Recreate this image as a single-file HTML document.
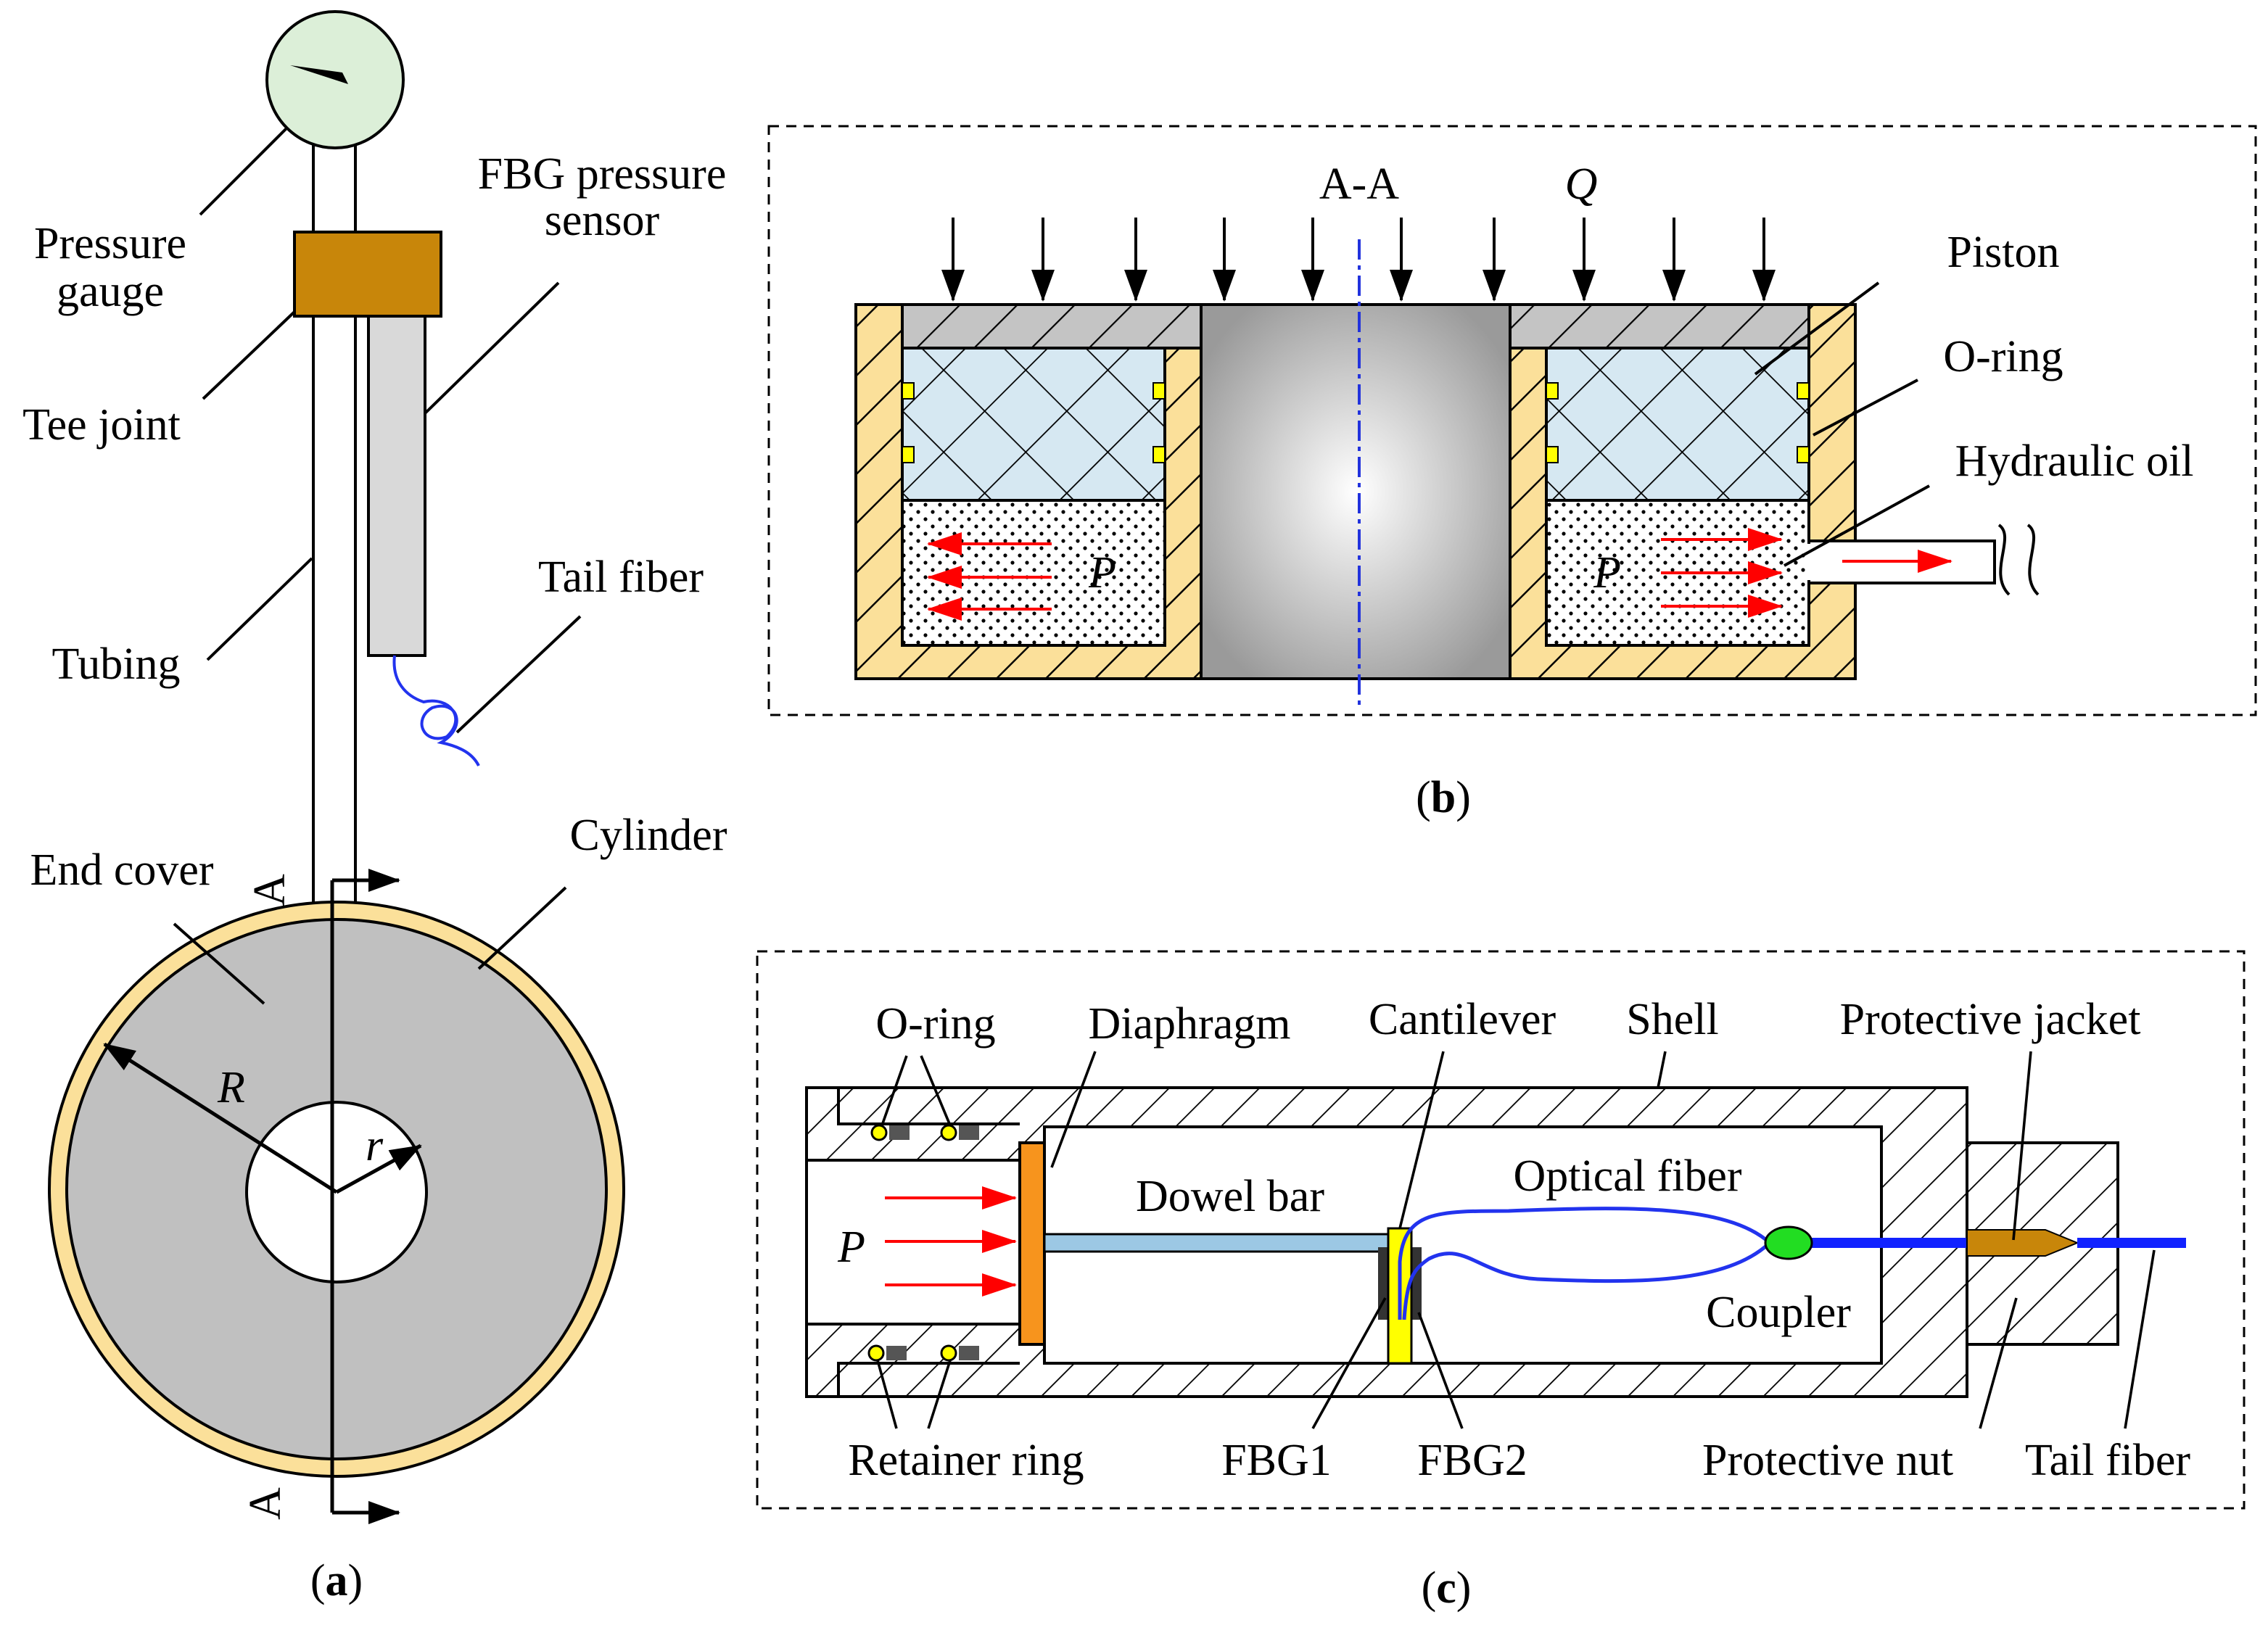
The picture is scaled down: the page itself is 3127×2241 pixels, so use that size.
<!DOCTYPE html>
<html><head><meta charset="utf-8"><style>html,body{margin:0;padding:0;background:#fff}svg{display:block}text{font-family:"Liberation Serif",serif;font-size:31px;fill:#000}</style></head><body>
<svg width="3127" height="2241" viewBox="0 0 1563.5 1120.5" xmlns="http://www.w3.org/2000/svg">
<defs>
<pattern id="hy" width="24" height="24" patternUnits="userSpaceOnUse" patternTransform="rotate(45)"><rect width="24" height="24" fill="#fbe09a"/><line x1="0" y1="0" x2="0" y2="24" stroke="#000" stroke-width="2.5"/></pattern>
<pattern id="hw" width="22" height="22" patternUnits="userSpaceOnUse" patternTransform="rotate(45)"><rect width="22" height="22" fill="#fff"/><line x1="0" y1="0" x2="0" y2="22" stroke="#000" stroke-width="1.8"/></pattern>
<pattern id="hg" width="28" height="28" patternUnits="userSpaceOnUse" patternTransform="rotate(45)"><rect width="28" height="28" fill="#c4c4c4"/><line x1="0" y1="0" x2="0" y2="28" stroke="#000" stroke-width="2.2"/></pattern>
<pattern id="hx" width="40" height="40" patternUnits="userSpaceOnUse" patternTransform="rotate(45)"><rect width="40" height="40" fill="#d6e8f2"/><line x1="0" y1="0" x2="0" y2="40" stroke="#000" stroke-width="1.8"/><line x1="0" y1="0" x2="40" y2="0" stroke="#000" stroke-width="1.8"/></pattern>
<pattern id="dot" width="10" height="10" patternUnits="userSpaceOnUse"><rect width="10" height="10" fill="#fff"/><circle cx="3" cy="3" r="1.3" fill="#000"/><circle cx="8" cy="8" r="1.3" fill="#000"/></pattern>
<radialGradient id="cyl" cx="0.5" cy="0.5" r="0.6"><stop offset="0" stop-color="#fff"/><stop offset="1" stop-color="#9a9a9a"/></radialGradient>
<marker id="ab2" markerWidth="22" markerHeight="16" refX="21" refY="8" orient="auto" markerUnits="userSpaceOnUse" viewBox="0 0 22 16"><path d="M0,0 L22,8 L0,16z" fill="#000"/></marker>
<marker id="ar" markerWidth="24" markerHeight="16" refX="23" refY="8" orient="auto" markerUnits="userSpaceOnUse" viewBox="0 0 24 16"><path d="M0,0 L24,8 L0,16z" fill="#f00"/></marker>
</defs>

<!-- (a) -->
<rect x="216" y="100" width="29" height="535" fill="#fff" stroke="#000" stroke-width="2"/>
<circle cx="231" cy="55" r="47" fill="#dcefd8" stroke="#000" stroke-width="2"/>
<path d="M200,45 L240,58 L236,50z" fill="#000"/>
<rect x="203" y="160" width="101" height="58" fill="#c8860a" stroke="#000" stroke-width="2"/>
<rect x="254" y="218" width="39" height="234" fill="#d9d9d9" stroke="#000" stroke-width="2"/>
<path d="M272,452 C270,470 280,480 292,484 C310,480 322,495 308,508 C292,514 284,496 298,488 C316,482 322,502 304,512 C318,515 326,520 330,528" fill="none" stroke="#2233ee" stroke-width="2"/>
<circle cx="232" cy="820" r="198" fill="#fbe09a" stroke="#000" stroke-width="2"/>
<circle cx="232" cy="820" r="186" fill="#c0c0c0" stroke="#000" stroke-width="2"/>
<circle cx="232" cy="822" r="62" fill="#fff" stroke="#000" stroke-width="2"/>
<line x1="229" y1="607" x2="229" y2="1043" stroke="#000" stroke-width="2.5"/>
<line x1="229" y1="607" x2="275" y2="607" stroke="#000" stroke-width="2.5" marker-end="url(#ab2)"/>
<line x1="229" y1="1043" x2="275" y2="1043" stroke="#000" stroke-width="2.5" marker-end="url(#ab2)"/>
<text transform="translate(196,625) rotate(-90)">A</text>
<text transform="translate(193,1048) rotate(-90)">A</text>
<line x1="232" y1="822" x2="72" y2="720" stroke="#000" stroke-width="2.5" marker-end="url(#ab2)"/>
<line x1="232" y1="822" x2="290" y2="790" stroke="#000" stroke-width="2.5" marker-end="url(#ab2)"/>
<text x="150" y="760" font-style="italic">R</text>
<text x="252" y="800" font-style="italic">r</text>
<g stroke="#000" stroke-width="2">
<line x1="138" y1="148" x2="198" y2="88"/><line x1="140" y1="275" x2="203" y2="215"/><line x1="293" y1="285" x2="385" y2="195"/><line x1="315" y1="505" x2="400" y2="425"/><line x1="143" y1="455" x2="215" y2="385"/><line x1="120" y1="637" x2="182" y2="692"/><line x1="330" y1="668" x2="390" y2="612"/>
</g>
<text x="76" y="178" text-anchor="middle">Pressure</text><text x="76" y="211" text-anchor="middle">gauge</text>
<text x="70" y="303" text-anchor="middle">Tee joint</text>
<text x="415" y="130" text-anchor="middle">FBG pressure</text><text x="415" y="162" text-anchor="middle">sensor</text>
<text x="428" y="408" text-anchor="middle">Tail fiber</text>
<text x="80" y="468" text-anchor="middle">Tubing</text>
<text x="84" y="610" text-anchor="middle">End cover</text>
<text x="447" y="586" text-anchor="middle">Cylinder</text>
<text x="232" y="1100" text-anchor="middle">(<tspan font-weight="bold">a</tspan>)</text>

<!-- (b) -->
<rect x="530" y="87" width="1025" height="406" fill="none" stroke="#000" stroke-width="1.5" stroke-dasharray="7,5"/>
<rect x="828" y="210" width="213" height="258" fill="url(#cyl)" stroke="#000" stroke-width="2"/>
<path d="M590,210 L622,210 L622,445 L803,445 L803,240 L828,240 L828,468 L590,468z" fill="url(#hy)" stroke="#000" stroke-width="2"/>
<path d="M1279,210 L1247,210 L1247,445 L1066,445 L1066,240 L1041,240 L1041,468 L1279,468z" fill="url(#hy)" stroke="#000" stroke-width="2"/>
<rect x="622" y="210" width="206" height="30" fill="url(#hg)" stroke="#000" stroke-width="2"/>
<rect x="1041" y="210" width="206" height="30" fill="url(#hg)" stroke="#000" stroke-width="2"/>
<rect x="622" y="240" width="181" height="105" fill="url(#hx)" stroke="#000" stroke-width="2"/>
<rect x="1066" y="240" width="181" height="105" fill="url(#hx)" stroke="#000" stroke-width="2"/>
<rect x="622" y="345" width="181" height="100" fill="url(#dot)" stroke="#000" stroke-width="2"/>
<rect x="1066" y="345" width="181" height="100" fill="url(#dot)" stroke="#000" stroke-width="2"/>
<g fill="#ff0" stroke="#000" stroke-width="1"><rect x="622" y="264" width="8" height="11"/><rect x="622" y="308" width="8" height="11"/><rect x="795" y="264" width="8" height="11"/><rect x="795" y="308" width="8" height="11"/><rect x="1066" y="264" width="8" height="11"/><rect x="1066" y="308" width="8" height="11"/><rect x="1239" y="264" width="8" height="11"/><rect x="1239" y="308" width="8" height="11"/></g>
<rect x="1247" y="373" width="128" height="29" fill="#fff" stroke="#000" stroke-width="2"/>
<rect x="1245" y="375" width="4" height="25" fill="#fff"/>
<path d="M1378,362 C1390,370 1370,395 1385,410 M1398,362 C1410,370 1390,395 1405,410" fill="none" stroke="#000" stroke-width="2"/>
<line x1="937" y1="165" x2="937" y2="490" stroke="#2233dd" stroke-width="2" stroke-dasharray="14,4,3,4"/>
<g stroke="#000" stroke-width="2" marker-end="url(#ab2)">
<line x1="657" y1="150" x2="657" y2="207"/><line x1="719" y1="150" x2="719" y2="207"/><line x1="783" y1="150" x2="783" y2="207"/><line x1="844" y1="150" x2="844" y2="207"/><line x1="905" y1="150" x2="905" y2="207"/><line x1="966" y1="150" x2="966" y2="207"/><line x1="1030" y1="150" x2="1030" y2="207"/><line x1="1092" y1="150" x2="1092" y2="207"/><line x1="1154" y1="150" x2="1154" y2="207"/><line x1="1216" y1="150" x2="1216" y2="207"/>
</g>
<g stroke="#f00" stroke-width="2" marker-end="url(#ar)">
<line x1="725" y1="375" x2="640" y2="375"/><line x1="725" y1="398" x2="640" y2="398"/><line x1="725" y1="420" x2="640" y2="420"/>
<line x1="1145" y1="372" x2="1228" y2="372"/><line x1="1145" y1="395" x2="1228" y2="395"/><line x1="1145" y1="418" x2="1228" y2="418"/>
<line x1="1270" y1="387" x2="1345" y2="387"/>
</g>
<text x="760" y="405" text-anchor="middle" font-style="italic">P</text>
<text x="1108" y="405" text-anchor="middle" font-style="italic">P</text>
<text x="937" y="137" text-anchor="middle">A-A</text>
<text x="1090" y="137" text-anchor="middle" font-style="italic">Q</text>
<g stroke="#000" stroke-width="2"><line x1="1210" y1="258" x2="1295" y2="195"/><line x1="1250" y1="300" x2="1322" y2="262"/><line x1="1230" y1="390" x2="1330" y2="335"/></g>
<text x="1381" y="184" text-anchor="middle">Piston</text>
<text x="1381" y="256" text-anchor="middle">O-ring</text>
<text x="1430" y="328" text-anchor="middle">Hydraulic oil</text>
<text x="995" y="560" text-anchor="middle">(<tspan font-weight="bold">b</tspan>)</text>

<!-- (c) -->
<rect x="522" y="656" width="1025" height="384" fill="none" stroke="#000" stroke-width="1.5" stroke-dasharray="7,5"/>
<path d="M556,750 L1356,750 L1356,963 L556,963 L556,913 L703,913 L703,927 L720,927 L720,940 L1297,940 L1297,777 L720,777 L720,788 L703,788 L703,800 L556,800z" fill="url(#hw)" stroke="#000" stroke-width="2" fill-rule="evenodd"/>
<rect x="720" y="777" width="577" height="163" fill="#fff" stroke="#000" stroke-width="2"/>
<rect x="556" y="800" width="147" height="113" fill="#fff" stroke="#000" stroke-width="2"/>
<path d="M578,750 L578,775 L703,775" fill="none" stroke="#000" stroke-width="2"/>
<path d="M578,963 L578,940 L703,940" fill="none" stroke="#000" stroke-width="2"/>
<g fill="#ff0" stroke="#000" stroke-width="1.5"><circle cx="606" cy="781" r="5"/><circle cx="654" cy="781" r="5"/><circle cx="604" cy="933" r="5"/><circle cx="654" cy="933" r="5"/></g>
<g fill="#555"><rect x="613" y="776" width="14" height="10"/><rect x="661" y="776" width="14" height="10"/><rect x="611" y="928" width="14" height="10"/><rect x="661" y="928" width="14" height="10"/></g>
<rect x="1356" y="788" width="104" height="139" fill="url(#hw)" stroke="#000" stroke-width="2"/>
<rect x="703" y="788" width="17" height="139" fill="#f7941d" stroke="#000" stroke-width="2"/>
<rect x="720" y="851" width="237" height="12" fill="#9cc8e4" stroke="#000" stroke-width="1.5"/>
<rect x="950" y="860" width="8" height="50" fill="#333"/><rect x="972" y="860" width="8" height="50" fill="#333"/>
<rect x="957" y="847" width="16" height="93" fill="#ff0" stroke="#000" stroke-width="1.5"/>
<path d="M965,910 L965,870 C968,835 990,835 1040,835 C1120,832 1190,830 1220,857 C1190,885 1130,885 1060,882 C1020,880 1010,855 985,868 C975,875 970,880 968,910" fill="none" stroke="#2233ee" stroke-width="2.5"/>
<line x1="1249" y1="857" x2="1356" y2="857" stroke="#1122ff" stroke-width="7"/>
<path d="M1356,848 L1410,848 L1432,857 L1410,866 L1356,866z" fill="#c8860a" stroke="#000" stroke-width="1"/>
<line x1="1432" y1="857" x2="1507" y2="857" stroke="#1122ff" stroke-width="7"/>
<ellipse cx="1233" cy="857" rx="16" ry="11" fill="#22dd22" stroke="#000" stroke-width="1.5"/>
<g stroke="#f00" stroke-width="2" marker-end="url(#ar)"><line x1="610" y1="826" x2="700" y2="826"/><line x1="610" y1="856" x2="700" y2="856"/><line x1="610" y1="886" x2="700" y2="886"/></g>
<g stroke="#000" stroke-width="1.8">
<line x1="608" y1="776" x2="625" y2="728"/><line x1="655" y1="776" x2="635" y2="728"/>
<line x1="725" y1="805" x2="755" y2="725"/><line x1="965" y1="847" x2="995" y2="725"/><line x1="1143" y1="750" x2="1148" y2="725"/><line x1="1388" y1="855" x2="1400" y2="725"/>
<line x1="605" y1="938" x2="618" y2="985"/><line x1="655" y1="938" x2="640" y2="985"/>
<line x1="955" y1="895" x2="905" y2="985"/><line x1="978" y1="905" x2="1008" y2="985"/>
<line x1="1390" y1="895" x2="1365" y2="985"/><line x1="1485" y1="862" x2="1465" y2="985"/>
</g>
<text x="645" y="716" text-anchor="middle">O-ring</text>
<text x="820" y="716" text-anchor="middle">Diaphragm</text>
<text x="1008" y="713" text-anchor="middle">Cantilever</text>
<text x="1153" y="713" text-anchor="middle">Shell</text>
<text x="1372" y="713" text-anchor="middle">Protective jacket</text>
<text x="848" y="835" text-anchor="middle">Dowel bar</text>
<text x="1122" y="821" text-anchor="middle">Optical fiber</text>
<text x="1226" y="915" text-anchor="middle">Coupler</text>
<text x="587" y="870" text-anchor="middle" font-style="italic">P</text>
<text x="666" y="1017" text-anchor="middle">Retainer ring</text>
<text x="880" y="1017" text-anchor="middle">FBG1</text>
<text x="1015" y="1017" text-anchor="middle">FBG2</text>
<text x="1260" y="1017" text-anchor="middle">Protective nut</text>
<text x="1453" y="1017" text-anchor="middle">Tail fiber</text>
<text x="997" y="1105" text-anchor="middle">(<tspan font-weight="bold">c</tspan>)</text>
</svg>
</body></html>
